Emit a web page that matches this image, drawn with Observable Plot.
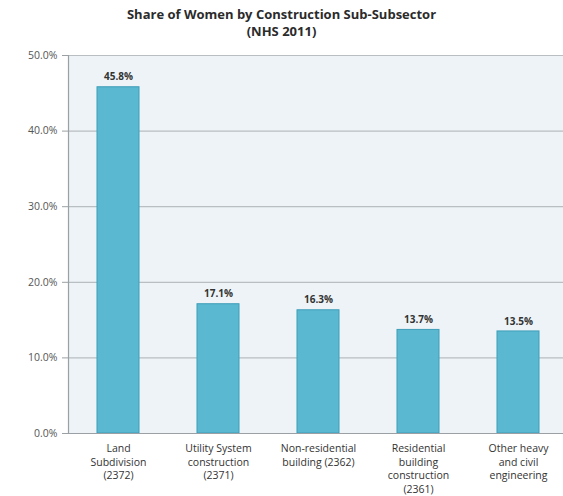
<!DOCTYPE html>
<html>
<head>
<meta charset="utf-8">
<script src="https://cdn.jsdelivr.net/npm/d3@7"></script>
<script src="https://cdn.jsdelivr.net/npm/@observablehq/plot@0.6"></script>
<style>
  html, body { margin: 0; padding: 0; background: #fff; }
  #title { width: 563px; height: 40px; box-sizing: border-box; padding-top: 6px; text-align: center;
    font-family: "Open Sans", sans-serif; font-weight: 700; font-size: 13px; line-height: 17px; color: #2b2b2b; }
</style>
</head>
<body>
<div id="title">Share of Women by Construction Sub-Subsector<br>(NHS 2011)</div>
<div id="chart"></div>
<script>
const categories = [
  "Land\nSubdivision\n(2372)",
  "Utility System\nconstruction\n(2371)",
  "Non-residential\nbuilding (2362)",
  "Residential\nbuilding\nconstruction\n(2361)",
  "Other heavy\nand civil\nengineering"
];
const shares = [45.8, 17.1, 16.3, 13.7, 13.5];
const yTicks = [0, 10, 20, 30, 40, 50];

const data = categories.map((c, i) => ({category: c, share: shares[i]}));
const fmt = d => d.toFixed(1) + "%";

const chart = Plot.plot({
  width: 563,
  height: 456,
  marginLeft: 68,
  marginRight: 0,
  marginTop: 15,
  marginBottom: 63,
  style: {fontFamily: "'Open Sans', sans-serif", fontSize: "10.5px", color: "#444", background: "#fff"},
  x: {domain: categories, range: [68, 568], paddingInner: 0.58, paddingOuter: 0.29, align: 0.5, label: null},
  y: {domain: [0, 50], label: null},
  marks: [
    Plot.frame({fill: "#edf3f7", stroke: null}),
    Plot.gridY(yTicks, {stroke: "#b9bec2", strokeOpacity: 1, strokeWidth: 1.2}),
    Plot.barY(data, {x: "category", y: "share", fill: "#5ab8d1", stroke: "#3f9db8", strokeWidth: 1}),
    Plot.text(data, {x: "category", y: "share", text: d => fmt(d.share), dy: -10, fontWeight: "bold", fontSize: 10, fill: "#333"}),
    Plot.frame({anchor: "left", stroke: "#9aa0a4", strokeWidth: 1.2}),
    Plot.axisY(yTicks, {tickFormat: fmt, tickSize: 6, tickPadding: 5, stroke: "#9aa0a4", fill: "#555", fontSize: 10.5}),
    Plot.ruleY([0], {stroke: "#9aa0a4", strokeWidth: 1.2}),
    Plot.axisX({tickSize: 0, tickPadding: 9, lineHeight: 1.3, fill: "#333", fontSize: 10.5, textAnchor: "middle"})
  ]
});
document.getElementById("chart").appendChild(chart);
</script>
</body>
</html>
